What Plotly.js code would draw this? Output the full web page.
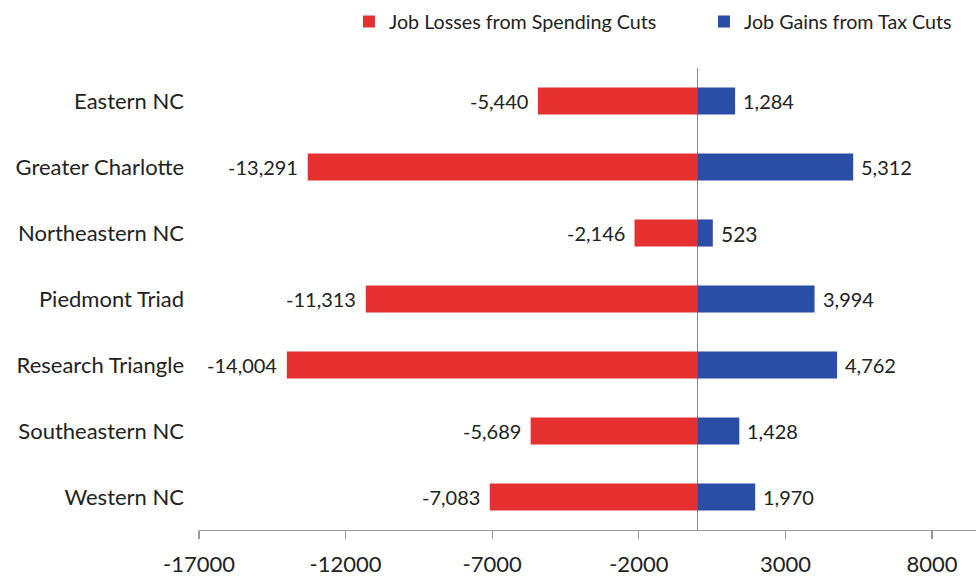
<!DOCTYPE html>
<html>
<head>
<meta charset="utf-8">
<script src="https://cdn.plot.ly/plotly-3.0.1.min.js"></script>
<style>html,body{margin:0;padding:0;background:#fff;}#chart{width:977px;height:580px;}</style>
</head>
<body>
<div id="chart"></div>
<script>
var regions = ["Eastern NC", "Greater Charlotte", "Northeastern NC", "Piedmont Triad", "Research Triangle", "Southeastern NC", "Western NC"];
var spendingCuts = [-5440, -13291, -2146, -11313, -14004, -5689, -7083];
var taxCuts = [1284, 5312, 523, 3994, 4762, 1428, 1970];
var tickValues = [-17000, -12000, -7000, -2000, 3000, 8000];
var tickLabels = ["-17000", "-12000", "-7000", "-2000", "3000", "8000"];

function fmt(v) {
  var s = Math.abs(v).toLocaleString('en-US');
  return (v < 0 ? '-' : '') + s;
}

var FONT = 'Lato, "Open Sans", sans-serif';
var red = '#E6302F';
var blue = '#2A4DA6';

var traces = [
  {type: 'bar', orientation: 'h', name: 'Job Losses from Spending Cuts', x: spendingCuts, y: regions,
   marker: {color: red}, hoverinfo: 'x+y'},
  {type: 'bar', orientation: 'h', name: 'Job Gains from Tax Cuts', x: taxCuts, y: regions,
   marker: {color: blue}, hoverinfo: 'x+y'}
];

var annotations = [];
regions.forEach(function(r, i) {
  annotations.push({x: spendingCuts[i], y: r, xref: 'x', yref: 'y', text: fmt(spendingCuts[i]),
    showarrow: false, xanchor: 'right', xshift: -8, font: {family: FONT, size: 20, color: '#222'}});
  annotations.push({x: taxCuts[i], y: r, xref: 'x', yref: 'y', text: fmt(taxCuts[i]),
    showarrow: false, xanchor: 'left', xshift: 6, font: {family: FONT, size: taxCuts[i] === 523 ? 21 : 20, color: '#222'}});
});

var layout = {
  width: 977, height: 580,
  margin: {l: 199, r: 1, t: 68, b: 50, autoexpand: false},
  paper_bgcolor: '#fff', plot_bgcolor: '#fff',
  barmode: 'relative', bargap: 0.59,
  font: {family: FONT, color: '#222'},
  showlegend: true,
  legend: {orientation: 'h', x: 0.193, xanchor: 'left', y: 1.1, yanchor: 'middle',
    font: {family: FONT, size: 19.7, color: '#222'}, entrywidth: 310, entrywidthmode: 'pixels',
    traceorder: 'normal'},
  xaxis: {range: [-17000, 9500], tickvals: tickValues, ticktext: tickLabels,
    showgrid: false, zeroline: true, zerolinecolor: '#8a8a8a', zerolinewidth: 1.5,
    showline: true, linecolor: '#9a9a9a', linewidth: 1.2,
    ticks: 'outside', ticklen: 8, tickcolor: '#9a9a9a', tickwidth: 1.2,
    ticklabelstandoff: 6,
    tickfont: {family: FONT, size: 22, color: '#222'}, fixedrange: true},
  yaxis: {categoryorder: 'array', categoryarray: regions, autorange: 'reversed',
    showgrid: false, zeroline: false, showline: false, ticks: '',
    ticklabelstandoff: 14,
    tickfont: {family: FONT, size: 22, color: '#222'}, fixedrange: true},
  annotations: annotations
};

Plotly.newPlot('chart', traces, layout, {displayModeBar: false, staticPlot: true});
</script>
</body>
</html>
